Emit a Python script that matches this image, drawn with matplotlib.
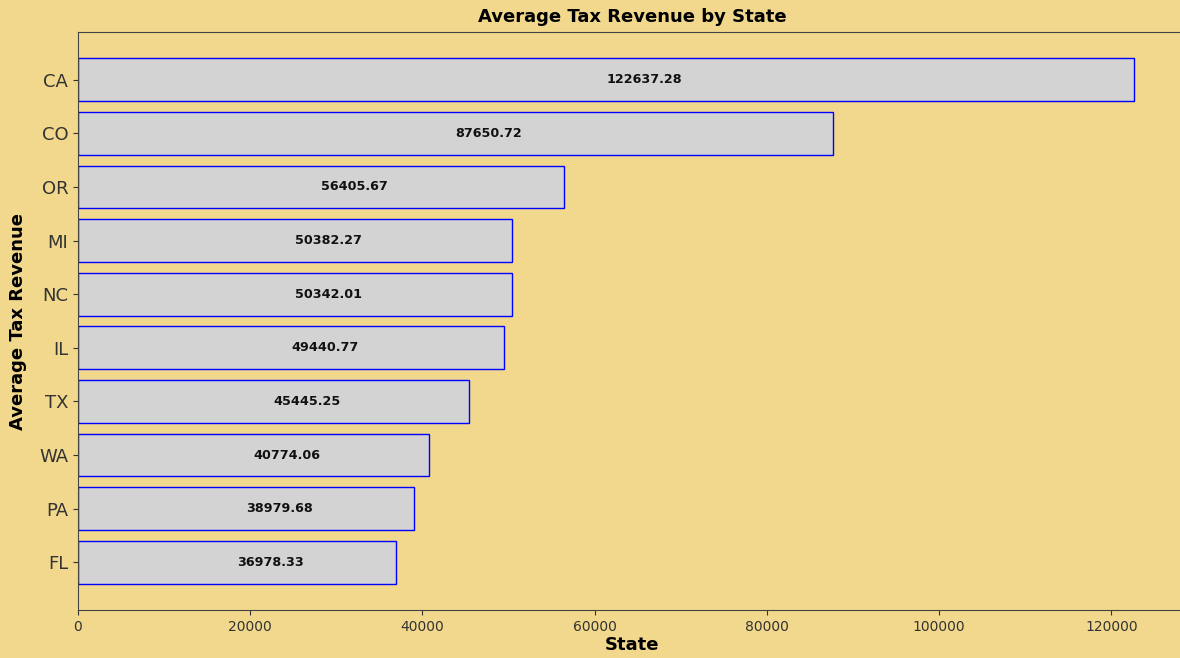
import matplotlib
matplotlib.use("Agg")
import matplotlib.pyplot as plt

states = ["CA", "CO", "OR", "MI", "NC", "IL", "TX", "WA", "PA", "FL"]
avg_revenue = [122637.28, 87650.72, 56405.67, 50382.27, 50342.01,
               49440.77, 45445.25, 40774.06, 38979.68, 36978.33]

fig = plt.figure(figsize=(11.8, 6.58), dpi=100)
fig.patch.set_facecolor("#F1D88C")
ax = fig.add_axes([78/1180, 48/658, (1187-78)/1180, (610-32)/658])
ax.set_facecolor("none")

y = list(range(len(states)))[::-1]
bars = ax.barh(y, avg_revenue, height=0.8, color="#D3D3D3", edgecolor="blue", linewidth=1)
for b, v in zip(bars, avg_revenue):
    ax.text(b.get_width() / 2, b.get_y() + b.get_height() / 2, f"{v:.2f}",
            ha="left", va="center", fontsize=9.2, fontweight="bold", color="#111111")

ax.set_yticks(y)
ax.set_yticklabels(states, fontsize=13, color="#333333")
ax.tick_params(axis="x", labelsize=10, colors="#333333")
ax.tick_params(axis="y", colors="#333333")
ax.set_xlim(0, 128769)
ax.set_title("Average Tax Revenue by State", fontsize=13, fontweight="bold", pad=7)
ax.set_xlabel("State", fontsize=13, fontweight="bold", labelpad=2)
ax.set_ylabel("Average Tax Revenue", fontsize=13, fontweight="bold", labelpad=9)
for s in ax.spines.values():
    s.set_color("#444444")
    s.set_linewidth(0.8)

fig.savefig("out.png", dpi=100, facecolor=fig.get_facecolor())
